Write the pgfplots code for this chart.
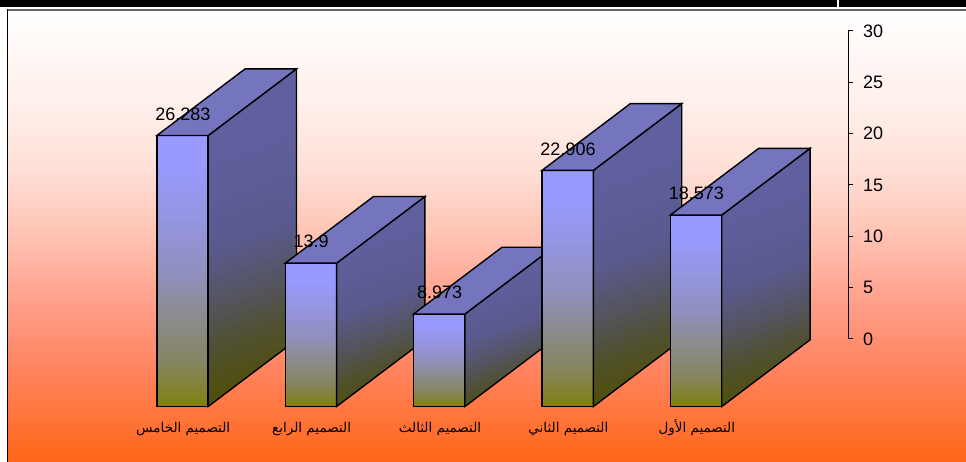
\documentclass[border=0pt]{standalone}
\usepackage{pgfplots}
\pgfplotsset{compat=1.18}
\usepackage{fontspec}
\setmainfont{Liberation Sans}
\newfontfamily\arabicfont[Script=Arabic]{DejaVu Sans}
\TeXXeTstate=1
\definecolor{topFace}{HTML}{7575BF}
\definecolor{bgA}{HTML}{FF6618}
\definecolor{bgB}{HTML}{FF8460}
\definecolor{bgC}{HTML}{FFA08C}
\definecolor{bgD}{HTML}{FFC4B4}
\definecolor{bgE}{HTML}{FFE0D8}
\definecolor{bgF}{HTML}{FFF0EB}
\definecolor{frA}{HTML}{808010}
\definecolor{frB}{HTML}{858560}
\definecolor{frC}{HTML}{8C8C90}
\definecolor{frD}{HTML}{9090C0}
\definecolor{frE}{HTML}{9999FF}
\definecolor{siA}{HTML}{4F5010}
\definecolor{siB}{HTML}{505030}
\definecolor{siC}{HTML}{545460}
\definecolor{siD}{HTML}{5A5A90}
\definecolor{siE}{HTML}{6060A0}
\pgfdeclareverticalshading{bgshade}{100bp}{color(0bp)=(bgA); color(25bp)=(bgA); color(35.5bp)=(bgB); color(42.9bp)=(bgC); color(50.3bp)=(bgD); color(57.6bp)=(bgE); color(65bp)=(bgF); color(75bp)=(white); color(100bp)=(white)}
\pgfdeclareverticalshading{frshade}{100bp}{color(0bp)=(frA); color(25bp)=(frA); color(33bp)=(frB); color(42bp)=(frC); color(50bp)=(frD); color(69bp)=(frE); color(100bp)=(frE)}
\pgfdeclareverticalshading{sishade}{100bp}{color(0bp)=(siA); color(26bp)=(siA); color(33bp)=(siB); color(41bp)=(siC); color(51bp)=(siD); color(70bp)=(siE); color(100bp)=(siE)}
\pgfplotsset{
  front/.style={draw=black,line width=1.4pt,mark=none,forget plot,shading=frshade},
  side/.style={draw=black,line width=1.4pt,mark=none,forget plot,shading=sishade,shading angle=20},
  topf/.style={draw=black,line width=1.4pt,mark=none,forget plot,fill=topFace}
}
\begin{document}
\begin{tikzpicture}
\useasboundingbox (0pt,0pt) rectangle (966pt,462pt);
\fill[white] (0pt,0pt) rectangle (966pt,462pt);
\shade[shading=bgshade] (8pt,0pt) rectangle (966pt,451.3pt);
\begin{axis}[
  at={(0pt,0pt)},anchor=south west,
  width=966pt,height=462pt,scale only axis,
  xmin=-1.4213,xmax=6.1020,ymin=-5.383,ymax=39.43,
  axis line style={draw=none},
  major tick style={draw=none},
  ytick=\empty,
  xtick={0,1,2,3,4},
  xticklabels={
    {\arabicfont\beginR التصميم الخامس\endR},
    {\arabicfont\beginR التصميم الرابع\endR},
    {\arabicfont\beginR التصميم الثالث\endR},
    {\arabicfont\beginR التصميم الثاني\endR},
    {\arabicfont\beginR التصميم الأول\endR}},
  x tick label style={font=\fontsize{13.5}{15}\selectfont,text height=13pt,text depth=4pt,yshift=46.5pt,xshift=0.7pt},
  point meta=explicit symbolic,
]
% bar 0
\addplot[front] coordinates {(-.2,0) (.2,0) (.2,26.283) (-.2,26.283)} -- cycle;
\addplot[side] coordinates {(.2,0) (.888,6.47) (.888,32.753) (.2,26.283)} -- cycle;
\addplot[topf] coordinates {(-.2,26.283) (.2,26.283) (.888,32.753) (.488,32.753)} -- cycle;
% bar 1
\addplot[front] coordinates {(.8,0) (1.2,0) (1.2,13.9) (.8,13.9)} -- cycle;
\addplot[side] coordinates {(1.2,0) (1.888,6.47) (1.888,20.37) (1.2,13.9)} -- cycle;
\addplot[topf] coordinates {(.8,13.9) (1.2,13.9) (1.888,20.37) (1.488,20.37)} -- cycle;
% bar 2
\addplot[front] coordinates {(1.8,0) (2.2,0) (2.2,8.973) (1.8,8.973)} -- cycle;
\addplot[side] coordinates {(2.2,0) (2.888,6.47) (2.888,15.443) (2.2,8.973)} -- cycle;
\addplot[topf] coordinates {(1.8,8.973) (2.2,8.973) (2.888,15.443) (2.488,15.443)} -- cycle;
% bar 3
\addplot[front] coordinates {(2.8,0) (3.2,0) (3.2,22.906) (2.8,22.906)} -- cycle;
\addplot[side] coordinates {(3.2,0) (3.888,6.47) (3.888,29.376) (3.2,22.906)} -- cycle;
\addplot[topf] coordinates {(2.8,22.906) (3.2,22.906) (3.888,29.376) (3.488,29.376)} -- cycle;
% bar 4
\addplot[front] coordinates {(3.8,0) (4.2,0) (4.2,18.573) (3.8,18.573)} -- cycle;
\addplot[side] coordinates {(4.2,0) (4.888,6.47) (4.888,25.043) (4.2,18.573)} -- cycle;
\addplot[topf] coordinates {(3.8,18.573) (4.2,18.573) (4.888,25.043) (4.488,25.043)} -- cycle;
% value labels
\addplot[draw=none,mark=none,forget plot,
  nodes near coords,
  nodes near coords style={anchor=center,yshift=21.5pt,xshift=0.3pt,font=\fontsize{18}{20}\selectfont,text=black,inner sep=0pt}]
  coordinates {(0,26.283)[26.283] (1,13.9)[13.9] (2,8.973)[8.973] (3,22.906)[22.906] (4,18.573)[18.573]};
\end{axis}
\begin{axis}[
  at={(847.3pt,123pt)},anchor=south west,
  width=1pt,height=308pt,scale only axis,
  xmin=0,xmax=1,ymin=0,ymax=30,
  hide x axis,
  axis y line*=right,
  ytick={0,5,...,30},
  tick align=outside,
  y axis line style={line width=1.6pt},
  major tick length=5pt,
  major tick style={line width=1pt,black},
  /pgf/number format/assume math mode=true,
  y tick label style={font=\fontsize{18}{20}\selectfont,anchor=west,xshift=9.5pt,inner sep=0pt},
]
\addplot[draw=none,mark=none,forget plot] coordinates {(0,0) (0,30)};
\end{axis}
% frame of the page
\fill[black] (0pt,455.3pt) rectangle (966pt,462pt);
\fill[white] (837.3pt,455.3pt) rectangle (839.3pt,462pt);
\fill[black!60] (7pt,451.3pt) rectangle (966pt,453.3pt);
\fill[black] (7pt,0pt) rectangle (8pt,453.3pt);
\end{tikzpicture}
\end{document}
